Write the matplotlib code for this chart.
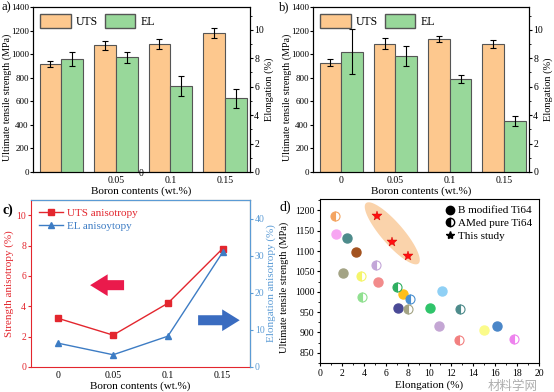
import numpy as np
import matplotlib.pyplot as plt
from matplotlib.patches import Patch, Polygon, FancyArrow
from matplotlib.lines import Line2D
from matplotlib.ticker import MultipleLocator

plt.rcParams['font.family'] = ['Liberation Serif', 'DejaVu Serif']
plt.rcParams['font.size'] = 7
plt.rcParams['xtick.direction'] = 'out'
plt.rcParams['ytick.direction'] = 'out'

# ---- data ----
boron = ['0', '0.05', '0.1', '0.15']

uts_a = [920, 1075, 1085, 1178]
uts_a_err = [25, 40, 40, 40]
el_a = [7.95, 8.05, 6.02, 5.18]
el_a_err = [0.5, 0.4, 0.7, 0.65]

uts_b = [928, 1090, 1125, 1088]
uts_b_err = [30, 50, 25, 35]
el_b = [8.47, 8.15, 6.54, 3.6]
el_b_err = [1.6, 0.7, 0.27, 0.35]

uts_aniso = [3.2, 2.1, 4.2, 7.8]
el_aniso = [6.4, 3.3, 8.3, 30.9]

# panel d: (elongation, UTS, colour)
bmod_el = [1.5, 2.5, 3.3, 2.1, 5.3, 7.6, 11.1, 7.1, 10.0, 10.9, 15.0, 16.2]
bmod_uts = [1143, 1133, 1098, 1045, 1023, 995, 1002, 960, 960, 916, 907, 917]
bmod_col = ['#f7a6f2', '#4d8b8b', '#a3521f', '#a3a384', '#f28b8b', '#ffbf1a',
            '#8fd0f5', '#4a4a96', '#2fc46a', '#c4a6d4', '#fbfb8a', '#4a86c8']
pure_el = [1.4, 5.1, 3.7, 3.8, 7.0, 8.2, 8.0, 12.8, 12.7, 17.7]
pure_uts = [1187, 1066, 1040, 988, 1012, 983, 958, 958, 882, 885]
pure_col = ['#f4a460', '#c3a6d8', '#f5f56a', '#90e090', '#2eae60', '#4a90d0',
            '#a3a384', '#4d8b8b', '#f28080', '#ee82ee']
star_el = [5.2, 6.6, 8.0]
star_uts = [1185, 1122, 1088]

UTS_C = '#fdc88e'
EL_C = '#98d89a'
RED = '#e3262e'
BLUE = '#3d7cc4'
LBLUE = '#5b9bd5'

W, H = 554, 392
fig = plt.figure(figsize=(W / 100, H / 100), dpi=100)


def px_axes(l, t, r, b):
    return fig.add_axes([l / W, 1 - b / H, (r - l) / W, (b - t) / H])


def bar_panel(ax, uts, uts_err, el, el_err):
    x = np.arange(len(uts))
    bw = 0.4
    ax.bar(x - bw / 2, uts, bw, yerr=uts_err, color=UTS_C, edgecolor='#555555',
           linewidth=0.8, capsize=2, error_kw=dict(elinewidth=0.8, capthick=0.8))
    ax.set_ylim(0, 1400)
    ax.set_xlim(-0.52, 3.46)
    ax.yaxis.set_major_locator(MultipleLocator(200))
    ax.set_ylabel('Ultimate tensile strength (MPa)', fontsize=7.2)
    ax.yaxis.set_label_coords(-0.097, 0.45)
    ax.set_xlabel('Boron contents (wt.%)', fontsize=8, labelpad=1)
    ax.tick_params(axis='x', length=0, pad=3)
    ax.tick_params(axis='y', length=2, pad=1, labelsize=6.5)
    ax2 = ax.twinx()
    ax2.bar(x + bw / 2, el, bw, yerr=el_err, color=EL_C, edgecolor='#555555',
            linewidth=0.8, capsize=2, error_kw=dict(elinewidth=0.8, capthick=0.8))
    ax2.set_ylim(0, 11.6)
    ax2.yaxis.set_major_locator(MultipleLocator(2))
    ax2.yaxis.set_minor_locator(MultipleLocator(1))
    ax2.tick_params(axis='y', which='major', length=2, pad=1)
    ax2.tick_params(axis='y', which='minor', length=1.2)
    ax2.set_ylabel('Elongation (%)', fontsize=7.5, labelpad=0.5)
    handles = [Patch(facecolor=UTS_C, edgecolor='#555555', label='UTS'),
               Patch(facecolor=EL_C, edgecolor='#555555', label='EL')]
    ax2.legend(handles=handles, loc='upper left', ncol=2, frameon=False,
               fontsize=8.5, handlelength=2.6, handleheight=1.4,
               borderaxespad=0.2, columnspacing=0.6, handletextpad=0.4)
    return ax2


# ---- a ----
ax_a = px_axes(33, 7, 250, 172)
bar_panel(ax_a, uts_a, uts_a_err, el_a, el_a_err)
ax_a.set_xticks([1, 2, 3])
ax_a.set_xticklabels(boron[1:])
ax_a.text(1.47, -0.012, boron[0], transform=ax_a.get_xaxis_transform(),
          ha='center', va='center', fontsize=7)
fig.text(0.002, 1 - 7 / H, 'a)', fontsize=9, va='center')

# ---- b ----
ax_b = px_axes(313, 7, 529, 172)
bar_panel(ax_b, uts_b, uts_b_err, el_b, el_b_err)
ax_b.set_xticks(range(4))
ax_b.set_xticklabels(boron)
fig.text(279 / W, 1 - 7 / H, 'b)', fontsize=9, va='center')

# ---- c ----
ax_c = px_axes(31, 200, 250, 367)
xc = np.arange(len(boron))
ax_c.plot(xc, uts_aniso, '-s', color=RED, ms=4, lw=1, label='UTS anisotropy')
ax_c.set_ylim(0, 11)
ax_c.set_xlim(-0.5, 3.5)
ax_c.set_xticks(xc)
ax_c.set_xticklabels(boron)
ax_c.yaxis.set_major_locator(MultipleLocator(2))
ax_c.set_ylabel('Strength anisotropy (%)', color=RED, fontsize=8, labelpad=1.5)
ax_c.set_xlabel('Boron contents (wt.%)', fontsize=8, labelpad=1)
ax_c.tick_params(axis='y', colors=RED, length=2, pad=1.5)
ax_c.tick_params(axis='x', length=0, pad=3)
ax_c.spines['left'].set_color(RED)
ax_c.spines['bottom'].set_color(RED)
ax_c2 = ax_c.twinx()
ax_c2.plot(xc, el_aniso, '-^', color=BLUE, ms=4, lw=1, label='EL anisoytopy')
ax_c2.set_ylim(0, 45)
ax_c2.yaxis.set_major_locator(MultipleLocator(10))
ax_c2.set_ylabel('Elongation anisotropy (%)', color=LBLUE, fontsize=8, labelpad=1.5)
ax_c2.tick_params(axis='y', colors=LBLUE, length=2, pad=1.5)
ax_c2.spines['right'].set_color(LBLUE)
ax_c2.spines['top'].set_color(LBLUE)
ax_c2.spines['left'].set_visible(False)
ax_c2.spines['bottom'].set_visible(False)
hc = [Line2D([], [], color=RED, marker='s', ms=4, lw=1),
      Line2D([], [], color=BLUE, marker='^', ms=4, lw=1)]
leg = ax_c2.legend(hc, ['UTS anisotropy', 'EL anisoytopy'], loc='upper left',
                   frameon=False, fontsize=8, handlelength=2.2,
                   borderaxespad=0.3, handletextpad=0.3, labelspacing=0.3)
for t, c in zip(leg.get_texts(), [RED, BLUE]):
    t.set_color(c)
ax_c2.add_patch(FancyArrow(0.425, 0.49, -0.155, 0, width=0.06, head_width=0.13,
                           head_length=0.08, length_includes_head=True,
                           transform=ax_c2.transAxes, color='#ea1a4c', lw=0))
ax_c2.add_patch(FancyArrow(0.763, 0.28, 0.19, 0, width=0.06, head_width=0.13,
                           head_length=0.08, length_includes_head=True,
                           transform=ax_c2.transAxes, color='#3a6cc0', lw=0))
fig.text(0.004, 1 - 210 / H, 'c)', fontsize=10, fontweight='bold', va='center')

# ---- d ----
ax_d = px_axes(320, 199, 539, 363)
ax_d.set_xlim(0, 20)
ax_d.set_ylim(825, 1228)
ax_d.xaxis.set_major_locator(MultipleLocator(2))
ax_d.xaxis.set_minor_locator(MultipleLocator(1))
ax_d.yaxis.set_major_locator(MultipleLocator(50))
ax_d.yaxis.set_minor_locator(MultipleLocator(25))
ax_d.tick_params(which='major', length=2.5, pad=1.5)
ax_d.tick_params(which='minor', length=1.5)
ax_d.set_xlabel('Elongation (%)', fontsize=8, labelpad=2)
ax_d.set_ylabel('Ultimate tensile strength (MPa)', fontsize=7.5, labelpad=2.5)
ax_d.yaxis.set_label_coords(-0.14, 0.46)

# shaded ellipse round the three stars, built in pixel space
cx, cy = np.mean(star_el), np.mean(star_uts) + 12
t = np.linspace(0, 2 * np.pi, 120)
ang = np.deg2rad(-49)
ex, ey = 40 * np.cos(t), 11 * np.sin(t)
rx = ex * np.cos(ang) - ey * np.sin(ang)
ry = ex * np.sin(ang) + ey * np.cos(ang)
c_disp = ax_d.transData.transform((cx, cy))
pts = ax_d.transData.inverted().transform(np.column_stack([rx + c_disp[0], ry + c_disp[1]]))
ax_d.add_patch(Polygon(pts, closed=True, facecolor='#f9c896', alpha=0.8,
                       edgecolor='none', zorder=1))

for x, y, c in zip(bmod_el, bmod_uts, bmod_col):
    ax_d.plot(x, y, 'o', ms=6.5, color=c, mec=c, zorder=3)
for x, y, c in zip(pure_el, pure_uts, pure_col):
    ax_d.plot(x, y, 'o', ms=6.5, color=c, mec=c, mew=0.8, fillstyle='left',
              markerfacecoloralt='white', zorder=3)
ax_d.plot(star_el, star_uts, '*', ms=7, color='#ff1010', mec='#d00000',
          mew=0.3, ls='none', zorder=4)

hd = [Line2D([], [], marker='o', color='k', ls='none', ms=6),
      Line2D([], [], marker='o', color='k', mec='k', ls='none', ms=6,
             fillstyle='left', markerfacecoloralt='white'),
      Line2D([], [], marker='*', color='k', ls='none', ms=6)]
ax_d.legend(hd, ['B modified Ti64', 'AMed pure Ti64', 'This study'],
            loc='upper right', frameon=False, fontsize=8, handletextpad=0.1,
            handlelength=1.2, borderaxespad=0.2, labelspacing=0.25)
fig.text(279 / W, 1 - 207 / H, 'd)', fontsize=10, va='center')

# watermark
fig.text(0.925, 1 - 386 / H, '材料学网', fontsize=9, color='#9a9a9a',
         family=['Noto Sans CJK SC', 'DejaVu Sans'], ha='center', va='center',
         alpha=0.8)

fig.savefig('out.png', dpi=100)
